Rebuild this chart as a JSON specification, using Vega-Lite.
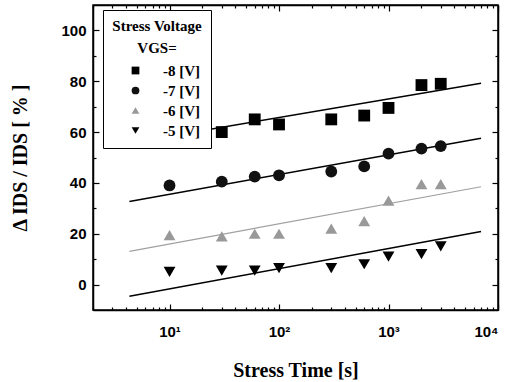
{
  "$schema": "https://vega.github.io/schema/vega-lite/v6.json",
  "width": 405,
  "height": 305,
  "autosize": {"type": "none"},
  "padding": {"left": 93, "top": 5, "right": 15, "bottom": 72},
  "background": "white",
  "datasets": {
    "pts": [
      {"t": 10, "v": 57, "s": "-8 [V]"},
      {"t": 30, "v": 60, "s": "-8 [V]"},
      {"t": 60, "v": 65, "s": "-8 [V]"},
      {"t": 100, "v": 63, "s": "-8 [V]"},
      {"t": 300, "v": 65, "s": "-8 [V]"},
      {"t": 600, "v": 66.5, "s": "-8 [V]"},
      {"t": 1000, "v": 69.5, "s": "-8 [V]"},
      {"t": 2000, "v": 78.5, "s": "-8 [V]"},
      {"t": 3000, "v": 79, "s": "-8 [V]"},
      {"t": 10, "v": 39, "s": "-7 [V]"},
      {"t": 30, "v": 40.5, "s": "-7 [V]"},
      {"t": 60, "v": 42.5, "s": "-7 [V]"},
      {"t": 100, "v": 43, "s": "-7 [V]"},
      {"t": 300, "v": 44.5, "s": "-7 [V]"},
      {"t": 600, "v": 46.5, "s": "-7 [V]"},
      {"t": 1000, "v": 51.5, "s": "-7 [V]"},
      {"t": 2000, "v": 53.5, "s": "-7 [V]"},
      {"t": 3000, "v": 54.5, "s": "-7 [V]"},
      {"t": 10, "v": 19.5, "s": "-6 [V]"},
      {"t": 30, "v": 19, "s": "-6 [V]"},
      {"t": 60, "v": 20, "s": "-6 [V]"},
      {"t": 100, "v": 20, "s": "-6 [V]"},
      {"t": 300, "v": 22, "s": "-6 [V]"},
      {"t": 600, "v": 25, "s": "-6 [V]"},
      {"t": 1000, "v": 33, "s": "-6 [V]"},
      {"t": 2000, "v": 39.5, "s": "-6 [V]"},
      {"t": 3000, "v": 39.5, "s": "-6 [V]"},
      {"t": 10, "v": 5, "s": "-5 [V]"},
      {"t": 30, "v": 5.5, "s": "-5 [V]"},
      {"t": 60, "v": 5.5, "s": "-5 [V]"},
      {"t": 100, "v": 6.5, "s": "-5 [V]"},
      {"t": 300, "v": 6.5, "s": "-5 [V]"},
      {"t": 600, "v": 8, "s": "-5 [V]"},
      {"t": 1000, "v": 11, "s": "-5 [V]"},
      {"t": 2000, "v": 12, "s": "-5 [V]"},
      {"t": 3000, "v": 15, "s": "-5 [V]"}
    ],
    "fit": [
      {"t": 4.3, "v": 55.7, "s": "-8 [V]"},
      {"t": 7000, "v": 79.2, "s": "-8 [V]"},
      {"t": 4.3, "v": 32.7, "s": "-7 [V]"},
      {"t": 7000, "v": 57.6, "s": "-7 [V]"},
      {"t": 4.3, "v": 13.1, "s": "-6 [V]"},
      {"t": 7000, "v": 38.5, "s": "-6 [V]"},
      {"t": 4.3, "v": -4.6, "s": "-5 [V]"},
      {"t": 7000, "v": 20.9, "s": "-5 [V]"}
    ]
  },
  "layer": [
    {
      "data": {"name": "fit"},
      "transform": [{"filter": "datum.s != '-6 [V]'"}],
      "mark": {"type": "line", "strokeWidth": 1.5, "color": "black"},
      "encoding": {
        "x": {
          "field": "t", "type": "quantitative",
          "scale": {"type": "log", "domain": [2, 10000]},
          "axis": {
            "orient": "top", "labels": false, "title": null, "grid": false,
            "values": [2,3,4,5,6,7,8,9,10,20,30,40,50,60,70,80,90,100,200,300,400,500,600,700,800,900,1000,2000,3000,4000,5000,6000,7000,8000,9000,10000],
            "tickSize": {"condition": {"test": "indexof([10,100,1000,10000], datum.value) >= 0", "value": -6}, "value": -3}
          }
        },
        "y": {
          "field": "v", "type": "quantitative",
          "scale": {"domain": [-10, 110], "nice": false, "zero": false},
          "axis": {
            "orient": "right", "labels": false, "title": null, "grid": false,
            "values": [0,10,20,30,40,50,60,70,80,90,100],
            "tickSize": {"condition": {"test": "datum.value % 20 == 0", "value": -6}, "value": -3}
          }
        },
        "detail": {"field": "s"}
      }
    },
    {
      "data": {"name": "fit"},
      "transform": [{"filter": "datum.s == '-6 [V]'"}],
      "mark": {"type": "line", "strokeWidth": 1.2, "color": "#a0a0a0"},
      "encoding": {
        "x": {"field": "t", "type": "quantitative", "scale": {"type": "log", "domain": [2, 10000]}, "axis": null},
        "y": {"field": "v", "type": "quantitative", "scale": {"domain": [-10, 110], "nice": false, "zero": false}, "axis": null}
      }
    },
    {
      "data": {"name": "pts"},
      "mark": {"type": "point", "filled": true, "opacity": 1, "size": 140},
      "encoding": {
        "x": {
          "field": "t", "type": "quantitative",
          "scale": {"type": "log", "domain": [2, 10000]},
          "axis": {
            "orient": "bottom", "title": "Stress Time [s]", "grid": false,
            "values": [2,3,4,5,6,7,8,9,10,20,30,40,50,60,70,80,90,100,200,300,400,500,600,700,800,900,1000,2000,3000,4000,5000,6000,7000,8000,9000,10000],
            "labelExpr": "datum.value == 10 ? '10¹' : datum.value == 100 ? '10²' : datum.value == 1000 ? '10³' : datum.value == 10000 ? '10⁴' : ''",
            "tickSize": {"condition": {"test": "indexof([10,100,1000,10000], datum.value) >= 0", "value": -6}, "value": -3},
            "labelPadding": 20,
            "titlePadding": 21,
            "titleFontSize": 20
          }
        },
        "y": {
          "field": "v", "type": "quantitative",
          "scale": {"domain": [-10, 110], "nice": false, "zero": false},
          "axis": {
            "orient": "left", "title": "Δ IDS / IDS [ % ]", "grid": false,
            "values": [0,10,20,30,40,50,60,70,80,90,100],
            "labelExpr": "datum.value % 20 == 0 ? datum.label : ''",
            "tickSize": {"condition": {"test": "datum.value % 20 == 0", "value": -6}, "value": -3},
            "labelPadding": 13,
            "titlePadding": 30,
            "titleFontSize": 20
          }
        },
        "shape": {
          "field": "s", "type": "nominal",
          "scale": {"domain": ["-8 [V]", "-7 [V]", "-6 [V]", "-5 [V]"], "range": ["square", "circle", "triangle-up", "triangle-down"]},
          "legend": {
            "title": ["Stress Voltage", "VGS="],
            "orient": "none", "legendX": 10, "legendY": 5,
            "strokeColor": "black", "fillColor": "white", "padding": 9,
            "titleAnchor": "middle", "titleAlign": "center", "titleLineHeight": 22, "titlePadding": 7,
            "symbolSize": 60, "symbolOffset": 14, "labelOffset": 20, "rowPadding": 4
          }
        },
        "color": {
          "field": "s", "type": "nominal",
          "scale": {"domain": ["-8 [V]", "-7 [V]", "-6 [V]", "-5 [V]"], "range": ["#000000", "#111111", "#999999", "#000000"]},
          "legend": {
            "title": ["Stress Voltage", "VGS="],
            "orient": "none", "legendX": 10, "legendY": 5,
            "strokeColor": "black", "fillColor": "white", "padding": 9,
            "titleAnchor": "middle", "titleAlign": "center", "titleLineHeight": 22, "titlePadding": 7,
            "symbolSize": 60, "symbolOffset": 14, "labelOffset": 20, "rowPadding": 4
          }
        }
      }
    }
  ],
  "resolve": {"axis": {"x": "independent", "y": "independent"}},
  "config": {
    "view": {"stroke": "black", "strokeWidth": 1.5},
    "axis": {
      "domainColor": "black", "domainWidth": 1.5, "tickColor": "black", "tickWidth": 1.2,
      "labelFont": "Liberation Sans", "labelFontWeight": "bold", "labelFontSize": 15, "labelColor": "black",
      "titleFont": "Liberation Serif", "titleFontWeight": "bold", "titleFontSize": 18, "titleColor": "black"
    },
    "legend": {
      "titleFont": "Liberation Serif", "titleFontWeight": "bold", "titleFontSize": 15, "titleColor": "black",
      "labelFont": "Liberation Serif", "labelFontWeight": "bold", "labelFontSize": 15, "labelColor": "black"
    }
  }
}
